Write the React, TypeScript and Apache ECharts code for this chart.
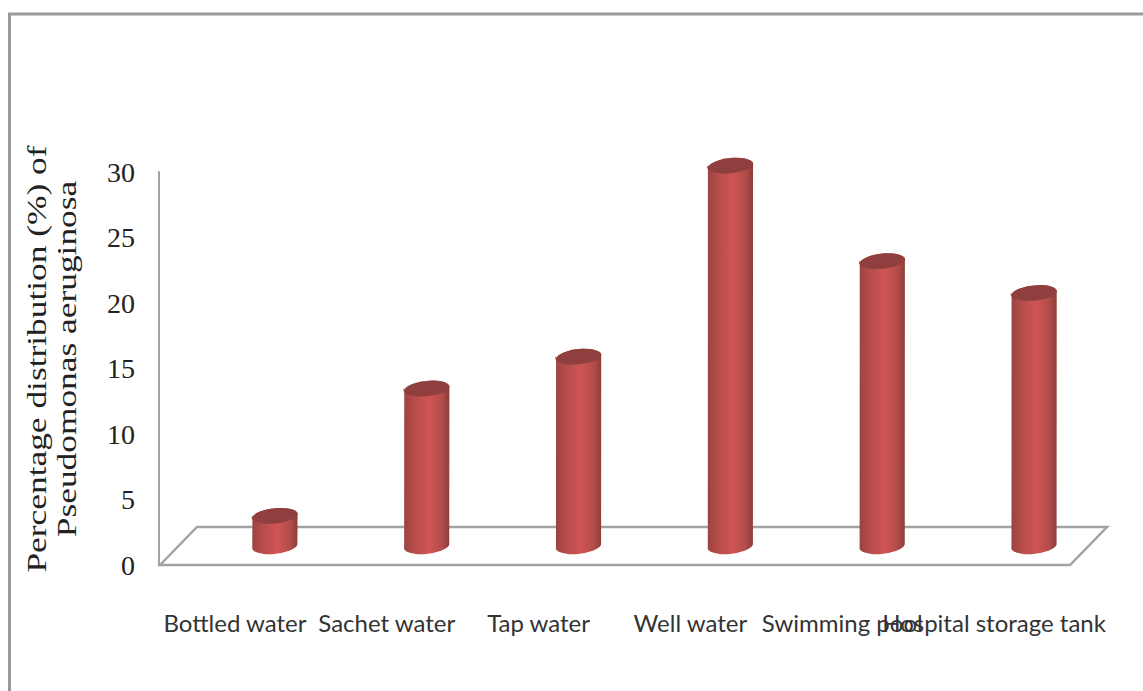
import React, { useEffect, useRef } from "react";
import * as echarts from "echarts";

const categories = ["Bottled water", "Sachet water", "Tap water", "Well water", "Swimming pool", "Hospital storage tank"];
const values = [2.5, 12.5, 15, 30, 22.5, 20];
const yTicks = [0, 5, 10, 15, 20, 25, 30];
const yAxisName = "Percentage distribution (%) of\nPseudomonas aeruginosa";

const GRAY = "#a3a3a3";
const RX = 22.5;
const RY = 8;
const TILT = 2.4;

function renderCylinder(params: any, api: any) {
  const top = api.coord([api.value(0), api.value(1)]);
  const base = api.coord([api.value(0), 0]);
  const cx = top[0];
  const l = cx - RX;
  const r = cx + RX;
  const body =
    `M ${l} ${top[1] + TILT} A ${RX} ${RY} -6 0 1 ${r} ${top[1] - TILT} ` +
    `L ${r} ${base[1] - TILT} A ${RX} ${RY} -6 0 1 ${l} ${base[1] + TILT} Z`;
  const cap =
    `M ${l} ${top[1] + TILT} A ${RX} ${RY} -6 0 1 ${r} ${top[1] - TILT} ` +
    `A ${RX} ${RY} -6 0 1 ${l} ${top[1] + TILT} Z`;
  return {
    type: "group",
    children: [
      {
        type: "path",
        shape: { pathData: body },
        style: {
          fill: new echarts.graphic.LinearGradient(0, 0, 1, 0, [
            { offset: 0, color: "#9a4341" },
            { offset: 0.2, color: "#b34c4a" },
            { offset: 0.55, color: "#cf5554" },
            { offset: 0.82, color: "#b54d4b" },
            { offset: 1, color: "#8c3d3b" },
          ]),
        },
      },
      { type: "path", shape: { pathData: cap }, style: { fill: "#8f403e" } },
    ],
  };
}

export default function App() {
  const ref = useRef<HTMLDivElement>(null);
  useEffect(() => {
    const chart = echarts.init(ref.current!, undefined, { renderer: "svg" });
    chart.setOption({
      animation: false,
      backgroundColor: "#ffffff",
      grid: [
        { left: 159, top: 172, width: 911, height: 393 },
        { left: 199, top: 165, width: 911, height: 382 },
      ],
      xAxis: [
        {
          type: "category",
          gridIndex: 0,
          data: categories,
          axisLine: { show: false },
          axisTick: { show: false },
          axisLabel: {
            interval: 0,
            hideOverlap: false,
            margin: 45,
            fontFamily: "Lato, sans-serif",
            fontSize: 24,
            color: "#333333",
          },
        },
        { type: "category", gridIndex: 1, data: categories, show: false },
      ],
      yAxis: [
        {
          type: "value",
          gridIndex: 0,
          min: yTicks[0],
          max: yTicks[yTicks.length - 1],
          interval: 5,
          axisLine: { show: true, lineStyle: { color: GRAY, width: 2 } },
          axisTick: { show: false },
          splitLine: { show: false },
          axisLabel: {
            margin: 24,
            fontFamily: "'Liberation Serif', serif",
            fontSize: 28,
            color: "#222222",
          },
        },
        { type: "value", gridIndex: 1, min: 0, max: 30, show: false },
      ],
      graphic: [
        {
          type: "polyline",
          z: 0,
          shape: { points: [[9.5, 691], [9.5, 14], [1143, 14]] },
          style: { stroke: "#9a9a9a", lineWidth: 3, fill: "none" },
        },
        {
          type: "polygon",
          z: 0,
          shape: { points: [[160, 565], [197, 527], [1107, 527], [1070, 565]] },
          style: { stroke: GRAY, lineWidth: 2.5, fill: "#ffffff" },
        },
        {
          type: "text",
          z: 1,
          x: 52,
          y: 359,
          rotation: Math.PI / 2,
          scaleX: 1.31,
          style: {
            text: yAxisName,
            fontFamily: "'Liberation Serif', serif",
            fontSize: 27,
            lineHeight: 30,
            fill: "#222222",
            align: "center",
            verticalAlign: "middle",
          },
        },
      ],
      series: [
        {
          type: "custom",
          xAxisIndex: 1,
          yAxisIndex: 1,
          z: 5,
          renderItem: renderCylinder,
          data: values.map((v, i) => [i, v]),
          encode: { x: 0, y: 1 },
        },
      ],
    });
    return () => chart.dispose();
  }, []);
  return (
    <div
      ref={ref}
      style={{ position: "absolute", left: 0, top: 0, width: 1143, height: 691 }}
    />
  );
}
